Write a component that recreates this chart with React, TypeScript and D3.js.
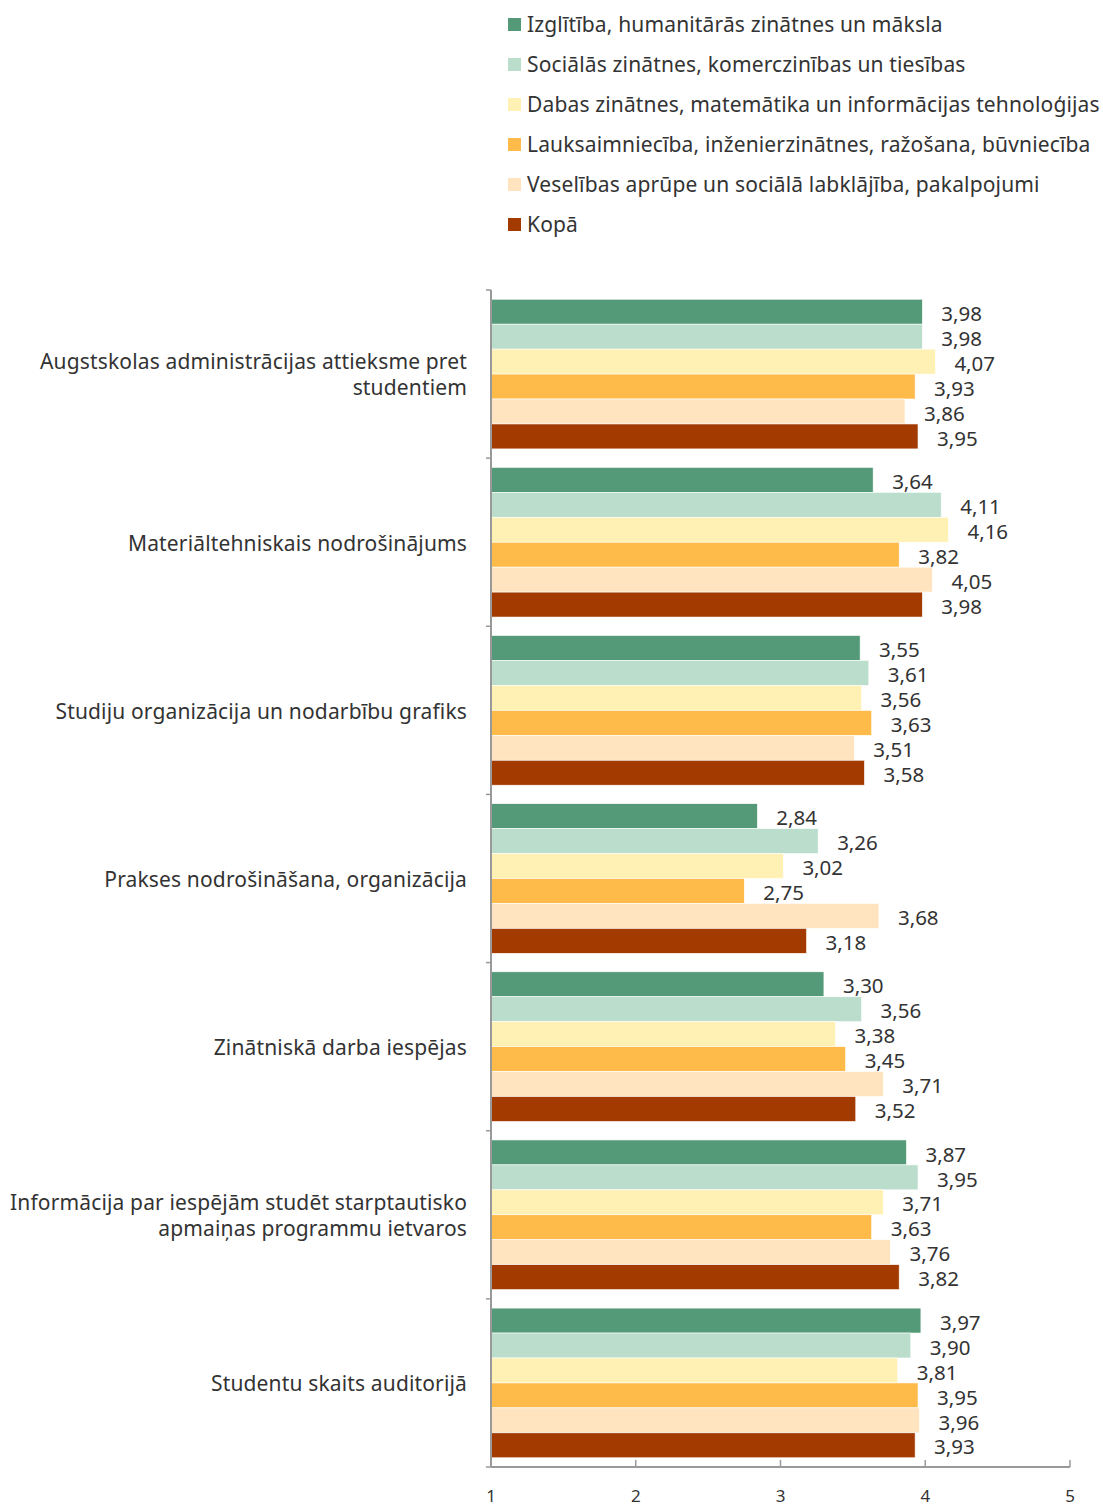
import React from "react";
import * as d3 from "d3";

const categories: string[][] = [
  ["Augstskolas administrācijas attieksme pret", "studentiem"],
  ["Materiāltehniskais nodrošinājums"],
  ["Studiju organizācija un nodarbību grafiks"],
  ["Prakses nodrošināšana, organizācija"],
  ["Zinātniskā darba iespējas"],
  ["Informācija par iespējām studēt starptautisko", "apmaiņas programmu ietvaros"],
  ["Studentu skaits auditorijā"],
];

const seriesNames = [
  "Izglītība, humanitārās zinātnes un māksla",
  "Sociālās zinātnes, komerczinības un tiesības",
  "Dabas zinātnes, matemātika un informācijas tehnoloģijas",
  "Lauksaimniecība, inženierzinātnes, ražošana, būvniecība",
  "Veselības aprūpe un sociālā labklājība, pakalpojumi",
  "Kopā",
];

const seriesColors = ["#559a78", "#bbddcc", "#fff0b3", "#ffbb4a", "#ffe4bf", "#a33b00"];

const izglitiba = [3.98, 3.64, 3.55, 2.84, 3.3, 3.87, 3.97];
const socialas = [3.98, 4.11, 3.61, 3.26, 3.56, 3.95, 3.9];
const dabas = [4.07, 4.16, 3.56, 3.02, 3.38, 3.71, 3.81];
const lauksaimnieciba = [3.93, 3.82, 3.63, 2.75, 3.45, 3.63, 3.95];
const veseliba = [3.86, 4.05, 3.51, 3.68, 3.71, 3.76, 3.96];
const kopa = [3.95, 3.98, 3.58, 3.18, 3.52, 3.82, 3.93];

const seriesValues = [izglitiba, socialas, dabas, lauksaimnieciba, veseliba, kopa];
const xTicks = [1, 2, 3, 4, 5];

const FONT = "'Noto Sans', 'Open Sans', sans-serif";

export default function App() {
  const W = 1103;
  const H = 1506;
  const x0 = 491;
  const x1 = 1070;
  const yTop = 290;
  const yBot = 1467;

  const x = d3.scaleLinear().domain([1, 5]).range([x0, x1]);
  const yGroup = d3
    .scaleBand<number>()
    .domain(d3.range(categories.length))
    .range([yTop, yBot])
    .padding(0);
  const ySeries = d3
    .scaleBand<number>()
    .domain(d3.range(seriesNames.length))
    .range([0, yGroup.bandwidth()])
    .paddingInner(0)
    .paddingOuter(0.37);

  const fmt = (v: number) => d3.format(".2f")(v).replace(".", ",");
  const axisColor = "#999";
  const textColor = "#333";
  const FS = 21;
  const LS = 0.15;

  return (
    <svg
      width={W}
      height={H}
      style={{ position: "absolute", left: 0, top: 0, display: "block" }}
      fontFamily={FONT}
    >
      <rect width={W} height={H} fill="#fff" />
      {/* Legend */}
      {seriesNames.map((name, i) => (
        <g key={name} transform={`translate(508, ${25 + i * 40})`}>
          <rect x={0} y={-7} width={13} height={13} fill={seriesColors[i]} />
          <text x={19} y={0} dy="0.35em" fontSize={FS} letterSpacing={LS} fill={textColor}>
            {name}
          </text>
        </g>
      ))}

      {/* Bars */}
      {categories.map((cat, ci) => {
        const gy = yGroup(ci)!;
        return (
          <g key={ci}>
            {seriesValues.map((vals, si) => {
              const by = gy + ySeries(si)!;
              const v = vals[ci];
              return (
                <g key={si}>
                  <rect
                    x={x(1)}
                    y={by}
                    width={x(v) - x(1)}
                    height={ySeries.bandwidth()}
                    fill={seriesColors[si]}
                    stroke="#fff"
                    strokeWidth={0.6}
                  />
                  <text
                    x={x(v) + 19}
                    y={by + ySeries.bandwidth() / 2 + 2}
                    dy="0.35em"
                    fontSize={20.5}
                    fill={textColor}
                  >
                    {fmt(v)}
                  </text>
                </g>
              );
            })}
            {cat.map((line, li) => (
              <text
                key={li}
                x={467}
                y={gy + yGroup.bandwidth() / 2 + (li - (cat.length - 1) / 2) * 26 + 1}
                dy="0.35em"
                textAnchor="end"
                fontSize={FS}
                letterSpacing={LS}
                fill={textColor}
              >
                {line}
              </text>
            ))}
          </g>
        );
      })}

      {/* Y axis */}
      <line x1={x0} x2={x0} y1={yTop} y2={yBot} stroke={axisColor} strokeWidth={2} />
      {d3.range(categories.length + 1).map((i) => {
        const yy = i < categories.length ? yGroup(i)! : yBot;
        return <line key={i} x1={x0 - 5} x2={x0} y1={yy} y2={yy} stroke={axisColor} strokeWidth={1.5} />;
      })}

      {/* X axis */}
      <line x1={x0} x2={x1} y1={yBot} y2={yBot} stroke={axisColor} strokeWidth={2} />
      {xTicks.map((t) => (
        <g key={t}>
          <line x1={x(t)} x2={x(t)} y1={yBot - 7} y2={yBot} stroke={axisColor} strokeWidth={1.5} />
          <text x={x(t)} y={1502} textAnchor="middle" fontSize={17} fill={textColor}>
            {t}
          </text>
        </g>
      ))}
    </svg>
  );
}
